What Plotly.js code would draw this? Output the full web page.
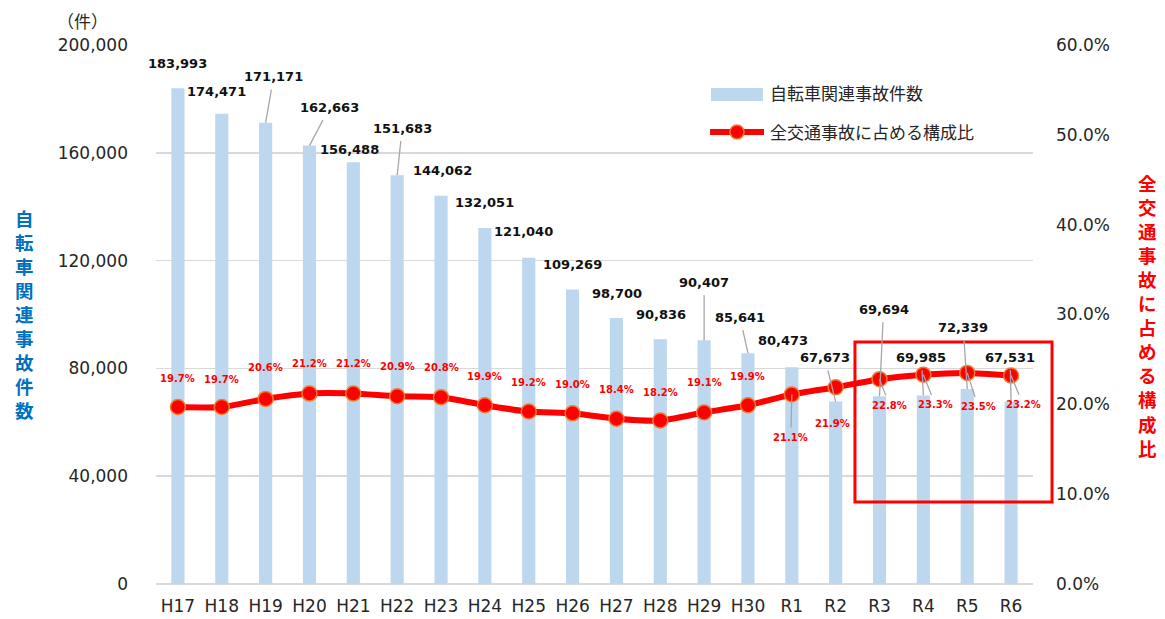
<!DOCTYPE html>
<html><head><meta charset="utf-8">
<script src="https://cdn.plot.ly/plotly-3.0.1.min.js"></script>
<style>html,body{margin:0;padding:0;background:#fff}#chart{width:1165px;height:619px}</style>
</head><body><div id="chart"></div>
<script>
// ---- data ----
const categories = ["H17","H18","H19","H20","H21","H22","H23","H24","H25","H26","H27","H28","H29","H30","R1","R2","R3","R4","R5","R6"];
const bicycleAccidents = [183993,174471,171171,162663,156488,151683,144062,132051,121040,109269,98700,90836,90407,85641,80473,67673,69694,69985,72339,67531];
const sharePercent = [19.7,19.7,20.6,21.2,21.2,20.9,20.8,19.9,19.2,19.0,18.4,18.2,19.1,19.9,21.1,21.9,22.8,23.3,23.5,23.2];
const seriesNames = ["自転車関連事故件数","全交通事故に占める構成比"];
const leftTitle = "自転車関連事故件数";
const rightTitle = "全交通事故に占める構成比";
const unitLabel = "（件）";

// ---- label placement (pixel offsets: dx, dy, leader line) ----
const barLabelOffsets = [[0,-25,0],[-5,-22,0],[8,-46,1],[20,-38,1],[-4,-13,0],[5,-47,1],[1,-25,0],[0,-26,0],[-5,-26,0],[0,-25,0],[1,-25,0],[1,-25,0],[0,-58,1],[-8,-36,1],[-9,-27,0],[-11,-44,1],[4,-87,1],[-2,-38,1],[-4,-62,1],[-1,-45,1]];
const pctLabelOffsets = [[0,-29,0],[0,-28,0],[0,-31,0],[0,-30,0],[0,-30,0],[0,-30,0],[0,-30,0],[0,-29,0],[0,-29,0],[0,-29,0],[0,-29,0],[0,-28,0],[0,-30,0],[0,-29,0],[-1,43,1],[-3,36,0],[10,26,1],[12,30,1],[11,34,1],[12,29,1]];

const NUMFONT = "DejaVu Sans, Verdana, sans-serif";
const JPFONT = "Noto Sans CJK JP, sans-serif";

const traces = [
  {type:"bar", x:categories, y:bicycleAccidents, name:seriesNames[0], marker:{color:"#BDD7EE"}, hoverinfo:"skip", showlegend:false},
  {type:"scatter", mode:"lines+markers", x:categories, y:sharePercent, yaxis:"y2", name:seriesNames[1],
   line:{color:"#FF0000", width:6, shape:"spline", smoothing:0.6},
   marker:{size:15, color:"#FF0000", line:{color:"#ED7D31", width:1.5}}, hoverinfo:"skip", showlegend:false}
];

const annotations = [];
function fmt(n){return n.toLocaleString("en-US");}
categories.forEach((c,i)=>{
  const o = barLabelOffsets[i];
  const a = {x:c, y:bicycleAccidents[i], xref:"x", yref:"y", text:fmt(bicycleAccidents[i]),
    font:{family:NUMFONT, size:13, color:"#111", weight:"bold"}, xanchor:"center", yanchor:"middle"};
  if(o[2]){Object.assign(a,{showarrow:true, ax:o[0], ay:o[1], arrowhead:0, arrowwidth:1.3, arrowcolor:"#A6A6A6", standoff:0, startstandoff:4});}
  else {Object.assign(a,{showarrow:false, xshift:o[0], yshift:-o[1]});}
  annotations.push(a);
  const p = pctLabelOffsets[i];
  const b = {x:c, y:sharePercent[i], xref:"x", yref:"y2", text:sharePercent[i].toFixed(1)+"%",
    font:{family:NUMFONT, size:10, color:"#FF0000", weight:"bold"}, xanchor:"center", yanchor:"middle"};
  if(p[2]){Object.assign(b,{showarrow:true, ax:p[0], ay:p[1], arrowhead:0, arrowwidth:1.3, arrowcolor:"#A6A6A6", standoff:0, startstandoff:3});}
  else {Object.assign(b,{showarrow:false, xshift:p[0], yshift:-p[1]});}
  annotations.push(b);
});
// vertical axis titles
annotations.push({xref:"paper", yref:"paper", x:0, y:1, xshift:-132, yshift:-158, text:Array.from(leftTitle).join("<br>"), showarrow:false,
  xanchor:"center", yanchor:"top", align:"center", font:{family:JPFONT, size:18.5, color:"#0070C0", weight:"bold"}});
annotations.push({xref:"paper", yref:"paper", x:1, y:1, xshift:114, yshift:-123, text:Array.from(rightTitle).join("<br>"), showarrow:false,
  xanchor:"center", yanchor:"top", align:"center", font:{family:JPFONT, size:18.5, color:"#FF0000", weight:"bold"}});
annotations.push({xref:"paper", yref:"paper", x:0, y:1, xshift:-74, yshift:25, text:unitLabel, showarrow:false,
  xanchor:"center", yanchor:"middle", font:{family:JPFONT, size:17, color:"#262626"}});
// legend text
annotations.push({xref:"paper", yref:"paper", x:0.6979, y:0.9128, text:seriesNames[0], showarrow:false, xanchor:"left", yanchor:"middle", font:{family:JPFONT, size:17, color:"#262626"}});
annotations.push({xref:"paper", yref:"paper", x:0.6979, y:0.8386, text:seriesNames[1], showarrow:false, xanchor:"left", yanchor:"middle", font:{family:JPFONT, size:17, color:"#262626"}});

const shapes = [
  // highlight box
  {type:"rect", xref:"paper", yref:"paper", x0:0.797, x1:1.0217, y0:0.152, y1:0.449, line:{color:"#FF0000", width:3}, fillcolor:"rgba(0,0,0,0)"},
  // legend swatches
  {type:"rect", xref:"paper", yref:"paper", x0:0.6328, x1:0.6921, y0:0.8961, y1:0.9202, line:{width:0}, fillcolor:"#BDD7EE"},
  {type:"line", xref:"paper", yref:"paper", x0:0.6318, x1:0.6933, y0:0.8386, y1:0.8386, line:{color:"#FF0000", width:6}},
  {type:"circle", xref:"paper", yref:"paper", x0:0.6545, x1:0.6705, y0:0.8256, y1:0.8516, line:{color:"#ED7D31", width:1.5}, fillcolor:"#FF0000"}
];

const layout = {
  width:1165, height:619, margin:{l:156, r:132, t:45, b:35},
  paper_bgcolor:"#fff", plot_bgcolor:"#fff", showlegend:false, bargap:0.7,
  xaxis:{type:"category", range:[-0.5,19.5], autorange:false, showgrid:false, zeroline:false, showline:false, ticks:"", ticklabelstandoff:10,
    tickfont:{family:NUMFONT, size:17, color:"#262626"}},
  yaxis:{range:[0,200000], autorange:false, dtick:40000, tickformat:",d", showgrid:true, gridcolor:"#D9D9D9", gridwidth:1.5,
    zeroline:true, zerolinecolor:"#D9D9D9", zerolinewidth:1.5, showline:false, ticks:"", ticklabelstandoff:27,
    tickfont:{family:NUMFONT, size:17, color:"#262626"}},
  yaxis2:{overlaying:"y", side:"right", range:[0,60], autorange:false, dtick:10, tickformat:".1f", ticksuffix:"%", showgrid:false,
    zeroline:false, showline:false, ticks:"", ticklabelstandoff:22, tickfont:{family:NUMFONT, size:17, color:"#262626"}},
  annotations:annotations, shapes:shapes
};
Plotly.newPlot("chart", traces, layout, {displayModeBar:false, staticPlot:true});
</script></body></html>
